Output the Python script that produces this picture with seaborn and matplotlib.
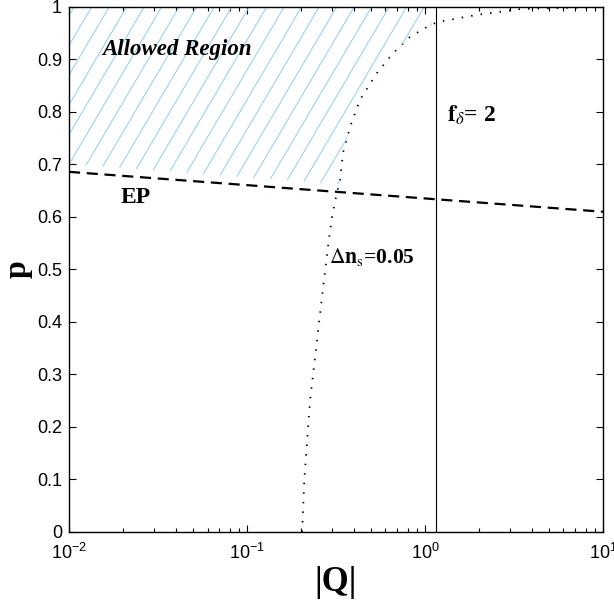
import numpy as np
import pandas as pd
import matplotlib
matplotlib.use("Agg")
import matplotlib.pyplot as plt
from matplotlib.patches import Polygon
import seaborn as sns

# ---------------- data ----------------
# Delta n_s = 0.05 contour (dotted)
Q_ns = [0.204, 0.210, 0.226, 0.264, 0.285, 0.300, 0.312, 0.333, 0.346, 0.379,
        0.431, 0.537, 0.661, 0.824, 1.026, 1.167, 1.96, 3.42, 9.25, 10.0]
p_ns = [0.000, 0.100, 0.250, 0.448, 0.543, 0.598, 0.629, 0.670, 0.722, 0.771,
        0.823, 0.874, 0.912, 0.943, 0.962, 0.971, 0.985, 0.996, 1.000, 1.000]
# EP line (dashed)
Q_ep = [0.01, 10.0]
p_ep = [0.686, 0.610]
# f_delta = 2 line (solid vertical)
Q_fd = 1.15

xtick_vals = [0.01, 0.1, 1, 10]
xtick_labels = [r"$10^{-2}$", r"$10^{-1}$", r"$10^{0}$", r"$10^{1}$"]
ytick_vals = [0, 0.1, 0.2, 0.3, 0.4, 0.5, 0.6, 0.7, 0.8, 0.9, 1.0]
ytick_labels = ["0", "0.1", "0.2", "0.3", "0.4", "0.5", "0.6", "0.7", "0.8", "0.9", "1"]

# ---------------- style ----------------
sns.set_style("ticks")
plt.rcParams["font.family"] = ["Liberation Sans", "DejaVu Sans"]
plt.rcParams["mathtext.fontset"] = "custom"
plt.rcParams["mathtext.rm"] = "Liberation Sans"
plt.rcParams["mathtext.it"] = "Liberation Sans:italic"
plt.rcParams["mathtext.bf"] = "Liberation Sans:bold"
for k in ["text.color", "axes.labelcolor", "xtick.color", "ytick.color",
          "axes.edgecolor"]:
    plt.rcParams[k] = "black"

fig = plt.figure(figsize=(6.14, 6.08), dpi=100)
ax = fig.add_axes([0.1124, 0.125, 0.8696, 0.8635])

df_ns = pd.DataFrame({"Q": Q_ns, "p": p_ns})
df_ep = pd.DataFrame({"Q": Q_ep, "p": p_ep})

sns.lineplot(data=df_ns, x="Q", y="p", ax=ax, color="black", lw=1.3,
             linestyle=(0, (0.8, 4.5)), sort=False, estimator=None)
sns.lineplot(data=df_ep, x="Q", y="p", ax=ax, color="black", lw=1.6,
             linestyle=(0, (5, 3)), sort=False, estimator=None)
ax.axvline(Q_fd, color="black", lw=0.8)

ax.set_xscale("log")
ax.set_xlim(0.01, 10)
ax.set_ylim(0, 1)

# ---------------- hatched allowed region ----------------
def ep_at(q):
    lq = np.log10(q)
    return np.interp(lq, np.log10(Q_ep), p_ep)

off = 0.015
pg = np.linspace(0.55, 1.0, 600)
Qc = 10 ** np.interp(pg, p_ns, np.log10(Q_ns))
Qr = np.minimum(Qc, Q_fd * 0.95)
ok = pg >= ep_at(Qr) + off
i0 = np.argmax(ok)
q_bottom = np.logspace(-2, np.log10(Qr[i0]), 50)
verts = [(0.01, 1.0)]
verts += [(q, ep_at(q) + off) for q in q_bottom]
verts += [(Qr[i], pg[i]) for i in range(i0, len(pg))]
verts += [(Qr[-1], 1.0)]
poly = Polygon(verts, closed=True, facecolor="none", edgecolor="none",
               transform=ax.transData)
ax.add_patch(poly)

slope = 1.7 * (0.8696 * 614) / (0.8635 * 608)
spacing = 17.5 / (0.8696 * 614)
for c in np.arange(-0.7, 1.0, spacing):
    ln, = ax.plot([c, c + 1.0 / slope], [0, 1], transform=ax.transAxes,
                  color="#8fd3ee", lw=0.75)
    ln.set_clip_path(poly)

# ---------------- text ----------------
serif = ["Liberation Serif", "DejaVu Serif"]
ax.text(0.0153, 0.909, "Allowed Region", family=serif, fontsize=16.5,
        fontweight="bold", style="italic", va="baseline", ha="left")
ax.text(0.0194, 0.627, "EP", family=serif, fontsize=17, fontweight="bold",
        va="baseline", ha="left")
ax.text(1.33, 0.781, r"$\mathbf{f}_{\delta}$= 2", family=serif, fontsize=17,
        fontweight="bold", va="baseline", ha="left", math_fontfamily="stix")
ax.text(0.289, 0.512, r"$\Delta\mathbf{n}_{\mathrm{s}}$=0.05", family=serif,
        fontsize=15.5, fontweight="bold", va="baseline", ha="left",
        math_fontfamily="stix")

ax.set_xlabel("|Q|", family=serif, fontsize=25, fontweight="bold", labelpad=2)
ax.set_ylabel("p", family=serif, fontsize=23, fontweight="bold", labelpad=3)

ax.set_xticks(xtick_vals)
ax.set_xticklabels(xtick_labels)
ax.set_yticks(ytick_vals)
ax.set_yticklabels(ytick_labels)
ax.tick_params(which="both", direction="in", top=True, right=True,
               labelsize=13, width=0.8, pad=5)
ax.tick_params(which="major", length=5)
ax.tick_params(which="minor", length=3)
ax.tick_params(axis="x", which="major", pad=8)
for s in ax.spines.values():
    s.set_linewidth(1.0)
    s.set_visible(True)

fig.savefig("out.png", dpi=100)
